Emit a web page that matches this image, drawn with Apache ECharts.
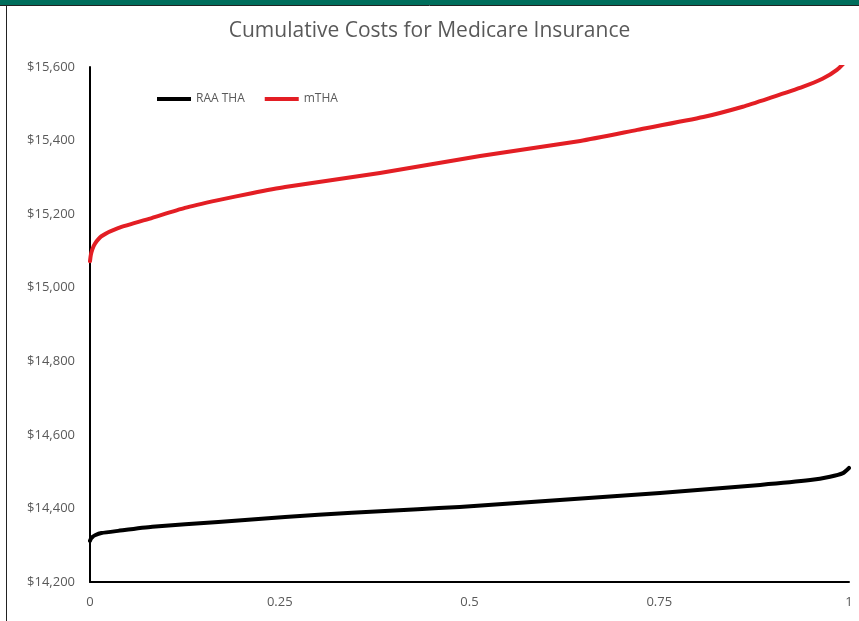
<!DOCTYPE html>
<html>
<head>
<meta charset="utf-8">
<script src="https://cdn.jsdelivr.net/npm/echarts@6/dist/echarts.min.js"></script>
<style>
html,body{margin:0;padding:0;background:#fff;}
#chart{width:859px;height:621px;}
</style>
</head>
<body>
<div id="chart"></div>
<script>
const chartTitle = 'Cumulative Costs for Medicare Insurance';
const seriesNames = ['RAA THA', 'mTHA'];
const raaX = [0, 0.001, 0.003, 0.0066, 0.015, 0.037, 0.082, 0.169, 0.257, 0.345, 0.432, 0.487, 0.619, 0.751, 0.883, 0.949, 0.975, 0.992, 1];
const raaY = [14312, 14317, 14322, 14327, 14333, 14339, 14350, 14363, 14377, 14388, 14398, 14404, 14423, 14442, 14464, 14477, 14486, 14496, 14510];
const mthaX = [0, 0.001, 0.003, 0.0066, 0.015, 0.037, 0.082, 0.125, 0.169, 0.213, 0.257, 0.382, 0.514, 0.646, 0.721, 0.808, 0.86, 0.896, 0.939, 0.965, 0.984, 1];
const mthaY = [15072, 15088, 15104, 15120, 15140, 15162, 15190, 15217, 15238, 15257, 15274, 15312, 15358, 15399, 15429, 15464, 15492, 15516, 15546, 15568, 15592, 15625];
const xTicks = [0, 0.25, 0.5, 0.75, 1];
const yMin = 14200, yMax = 15600, yStep = 200;

const pair = (xs, ys) => xs.map((x, i) => [x, ys[i]]);
const labelColor = '#595959';
const font = '"Open Sans", "Noto Sans", sans-serif';

const chart = echarts.init(document.getElementById('chart'), null, {renderer: 'canvas'});
chart.setOption({
  animation: false,
  backgroundColor: '#ffffff',
  title: {
    text: chartTitle,
    left: 'center',
    top: 16,
    textStyle: {color: labelColor, fontSize: 21, fontWeight: 'normal', fontFamily: font}
  },
  legend: {
    left: 152,
    top: 88,
    itemWidth: 34,
    itemHeight: 4,
    itemGap: 20,
    icon: 'rect',
    textStyle: {color: labelColor, fontSize: 12, fontFamily: font},
    data: seriesNames
  },
  grid: {left: 90, right: 10, top: 67, bottom: 39, containLabel: false},
  xAxis: {
    type: 'value',
    min: 0, max: 1, interval: 0.25,
    axisLine: {show: true, lineStyle: {color: '#000', width: 2}},
    axisTick: {show: false},
    splitLine: {show: false},
    axisLabel: {
      color: labelColor, fontSize: 13, fontFamily: font, margin: 14,
      formatter: v => xTicks.includes(v) ? String(v) : ''
    }
  },
  yAxis: {
    type: 'value',
    min: yMin, max: yMax, interval: yStep,
    axisLine: {show: true, lineStyle: {color: '#000', width: 2}},
    axisTick: {show: false},
    splitLine: {show: false},
    axisLabel: {
      color: labelColor, fontSize: 13, fontFamily: font, margin: 15,
      formatter: v => '$' + v.toLocaleString('en-US')
    }
  },
  series: [
    {
      name: seriesNames[0], type: 'line', data: pair(raaX, raaY),
      showSymbol: false, smooth: 0.2, clip: true,
      itemStyle: {color: '#000000'},
      lineStyle: {color: '#000000', width: 4, join: 'round', cap: 'round'}
    },
    {
      name: seriesNames[1], type: 'line', data: pair(mthaX, mthaY),
      showSymbol: false, smooth: 0.2, clip: true,
      itemStyle: {color: '#e31e24'},
      lineStyle: {color: '#e31e24', width: 4, join: 'round', cap: 'round'}
    }
  ],
  graphic: [
    {type: 'rect', left: 0, top: 0, shape: {width: 859, height: 5}, style: {fill: '#006e5c'}, z: 100},
    {type: 'line', shape: {x1: 0, y1: 5.5, x2: 859, y2: 5.5}, style: {stroke: '#222', lineWidth: 1}, z: 100},
    {type: 'line', shape: {x1: 6.5, y1: 5, x2: 6.5, y2: 621}, style: {stroke: '#222', lineWidth: 1}, z: 100}
  ]
});
</script>
</body>
</html>
